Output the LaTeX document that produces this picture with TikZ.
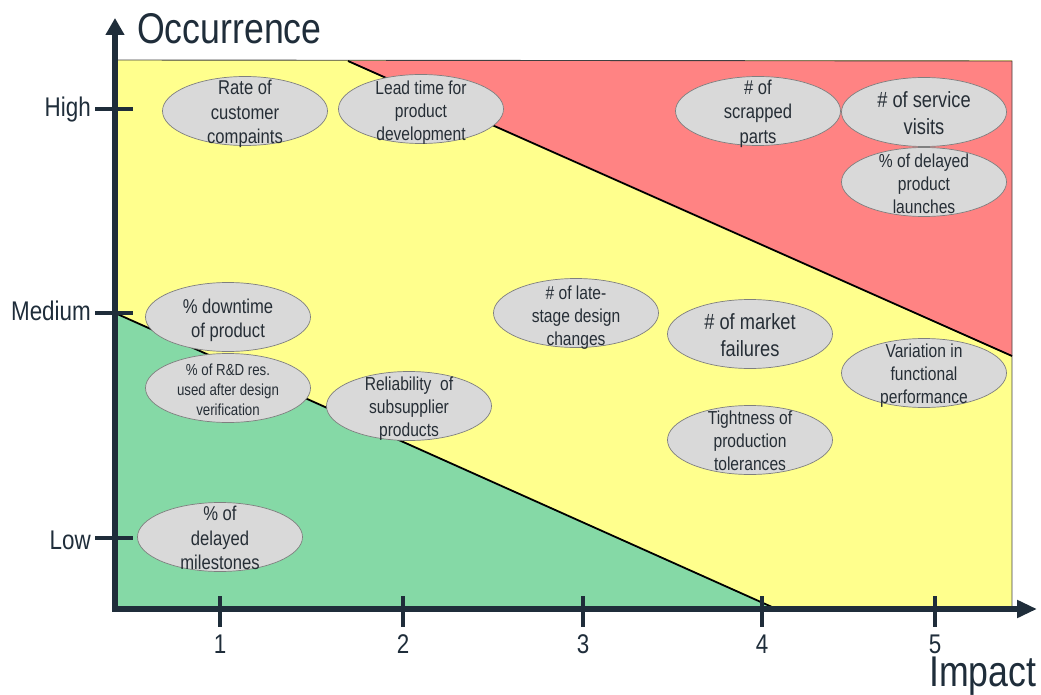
\documentclass[tikz,border=0pt]{standalone}
\usepackage{fontspec}
\setmainfont[FakeStretch=0.83]{Liberation Sans}
\usetikzlibrary{arrows.meta,shapes.geometric}
\definecolor{axiscol}{HTML}{1F2D3A}
\definecolor{txtcol}{HTML}{262E36}
\definecolor{yel}{HTML}{FFFF8D}
\definecolor{redz}{HTML}{FF8383}
\definecolor{grn}{HTML}{85D9A6}
\definecolor{bubfill}{HTML}{D9D9D9}
\definecolor{bubdraw}{HTML}{7F7F7F}
\tikzset{
  bubble/.style={ellipse, draw=bubdraw, line width=0.7pt, fill=bubfill, minimum width=165pt, minimum height=69pt, inner sep=0pt},
  btext/.style={text=txtcol, align=center, inner sep=0pt, font=\fontsize{20}{24.5}\selectfont},
  bsmall/.style={btext, font=\fontsize{16}{20}\selectfont},
  bmid/.style={btext, font=\fontsize{18.8}{23}\selectfont},
  bbig/.style={btext, font=\fontsize{22}{27}\selectfont},
  axislab/.style={text=axiscol, inner sep=0pt, font=\fontsize{27}{30}\selectfont},
  axistitle/.style={text=axiscol, inner sep=0pt, font=\fontsize{43}{46}\selectfont},
  tickline/.style={draw=axiscol, line width=4pt},
  zoneline/.style={draw=black, line width=1.8pt},
}
\begin{document}
\begin{tikzpicture}[x=1pt,y=-1pt]
\useasboundingbox (0,0) rectangle (1041,695);
% zones
\fill[yel] (115,60) rectangle (1012,607);
\fill[redz] (348,61) -- (1012,61) -- (1012,356) -- cycle;
\fill[grn] (115,313) -- (772,607) -- (115,607) -- cycle;
\draw[draw=black!75, line width=0.9pt] (115,60) -- (1012,61) -- (1012,607);
\draw[zoneline] (348,61) -- (1012,356);
\draw[zoneline] (115,313) -- (772,607);
% bubbles
\node[bubble] (b1) at (245,111) {};
\node[btext] (t1) at ([yshift=-3]b1.center) {Rate of\\customer\\compaints};
\node[bubble] (b2) at (421,109) {};
\node[bmid] (t2) at ([yshift=-3.5]b2.center) {Lead time for\\product\\development};
\node[bubble] (b3) at (758,111) {};
\node[btext] (t3) at ([yshift=-2.5]b3.center) {\# of\\scrapped\\parts};
\node[bubble] (b4) at (924,112) {};
\node[bbig] (t4) at ([yshift=-1.5]b4.center) {\# of service\\visits};
\node[bubble] (b5) at (924,182) {};
\node[bmid] (t5) at ([yshift=-1.5]b5.center) {\% of delayed\\product\\launches};
\node[bubble] (b6) at (228,317) {};
\node[btext] (t6) at ([yshift=-3.5]b6.center) {\% downtime\\of product};
\node[bubble] (b7) at (228,388) {};
\node[bsmall] (t7) at ([yshift=-1.5]b7.center) {\% of R\&D res.\\used after design\\verification};
\node[bubble] (b8) at (409,406) {};
\node[bmid] (t8) at ([yshift=-3]b8.center) {Reliability\ \ of\\subsupplier\\products};
\node[bubble] (b9) at (220,537) {};
\node[btext] (t9) at ([yshift=-1]b9.center) {\% of\\delayed\\milestones};
\node[bubble] (b10) at (576,313) {};
\node[bmid] (t10) at ([yshift=-4.5]b10.center) {\# of late-\\stage design\\changes};
\node[bubble] (b11) at (750,334) {};
\node[bbig] (t11) at ([yshift=-1.5]b11.center) {\# of market\\failures};
\node[bubble] (b12) at (924,373) {};
\node[bmid] (t12) at ([yshift=-2.5]b12.center) {Variation in\\functional\\performance};
\node[bubble] (b13) at (750,440) {};
\node[bmid] (t13) at ([yshift=-1]b13.center) {Tightness of\\production\\tolerances};
% axes
\draw[draw=axiscol, line width=6pt, line join=miter,
  {Triangle[length=17pt,width=18pt]}-{Triangle[length=20pt,width=17pt]}]
  (115,18) -- (115,609) -- (1037,609);
% y ticks
\draw[tickline] (95,109) -- (133,109);
\draw[tickline] (95,313) -- (133,313);
\draw[tickline] (95,538) -- (133,538);
\node[axislab, anchor=base east] (lh) at (91,117) {High};
\node[axislab, anchor=base east] (lm) at (91,320) {Medium};
\node[axislab, anchor=base east] (ll) at (91,549) {Low};
% x ticks
\foreach \xx/\lab in {220/1,403/2,583/3,762/4,935/5}{
  \draw[tickline] (\xx,596) -- (\xx,627);
  \node[axislab, anchor=base] (x\lab) at (\xx,653) {\lab};
}
\node[axistitle, anchor=base west] (occ) at (137,44) {Occurrence};
\node[axistitle, anchor=base west] (imp) at (929,686) {Impact};
\end{tikzpicture}
\end{document}
